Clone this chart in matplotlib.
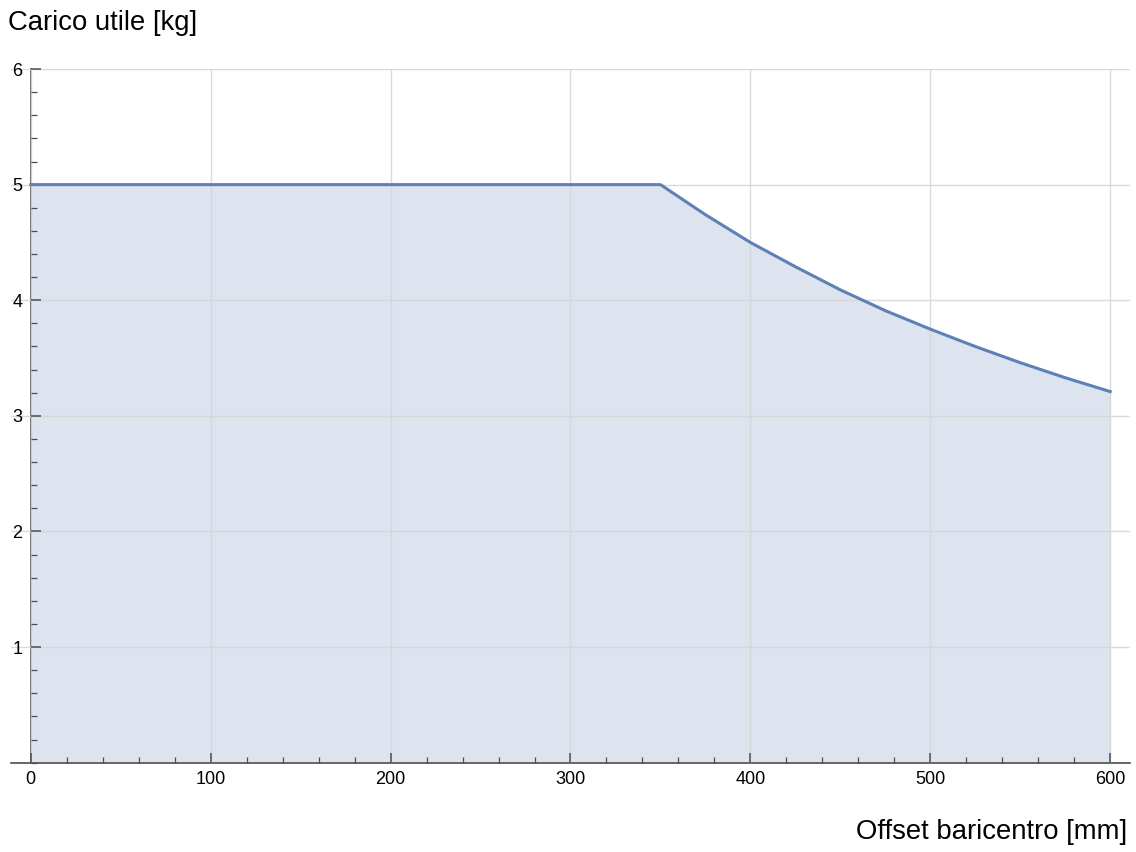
import matplotlib
matplotlib.use('Agg')
import matplotlib.pyplot as plt
from matplotlib.ticker import MultipleLocator

plt.rcParams['font.family'] = ['Liberation Sans', 'DejaVu Sans']

# offset [mm] and payload [kg]
offset_mm = [0, 100, 200, 300, 350, 375, 400, 425, 450, 475, 500, 525, 550, 575, 600]
payload_kg = [5.0, 5.0, 5.0, 5.0, 5.0, 4.74, 4.5, 4.29, 4.09, 3.91, 3.75, 3.6, 3.46, 3.33, 3.21]

x_ticks = [0, 100, 200, 300, 400, 500, 600]
y_ticks = [1, 2, 3, 4, 5, 6]

LINE = '#5e81b5'
FILL = '#dde3ef'
GRID = '#d6d6d6'
AXIS = '#4d4d4d'

fig = plt.figure(figsize=(11.36, 8.52), dpi=100)
ax = fig.add_axes([0.0097, 0.1048, 0.985, 0.8142])

ax.fill_between(offset_mm, 0, payload_kg, color=FILL, lw=0, zorder=1)
ax.plot(offset_mm, payload_kg, color=LINE, lw=2.2, zorder=3)

ax.set_xlim(-11, 611)
ax.set_ylim(0, 6)

ax.set_xticks(x_ticks)
ax.set_yticks(y_ticks)
ax.xaxis.set_minor_locator(MultipleLocator(20))
ax.yaxis.set_minor_locator(MultipleLocator(0.2))
ax.set_axisbelow(False)
ax.grid(True, which='major', color=GRID, lw=1, alpha=0.9)

for side in ('top', 'right'):
    ax.spines[side].set_visible(False)
ax.spines['left'].set_position(('data', 0))
for side in ('left', 'bottom'):
    ax.spines[side].set_color(AXIS)
    ax.spines[side].set_linewidth(1.2)

ax.tick_params(which='major', direction='in', length=7, width=1.1, color=AXIS,
               labelsize=13, pad=6)
ax.tick_params(which='minor', direction='in', length=4, width=0.9, color=AXIS)
ax.set_xticklabels([str(t) for t in x_ticks])
ax.set_yticklabels([str(t) for t in y_ticks])

fig.text(0.007, 0.973, 'Carico utile [kg]', fontsize=19.8, ha='left', va='center')
fig.text(0.992, 0.023, 'Offset baricentro [mm]', fontsize=19.8, ha='right', va='center')

fig.savefig('out.png', dpi=100)
